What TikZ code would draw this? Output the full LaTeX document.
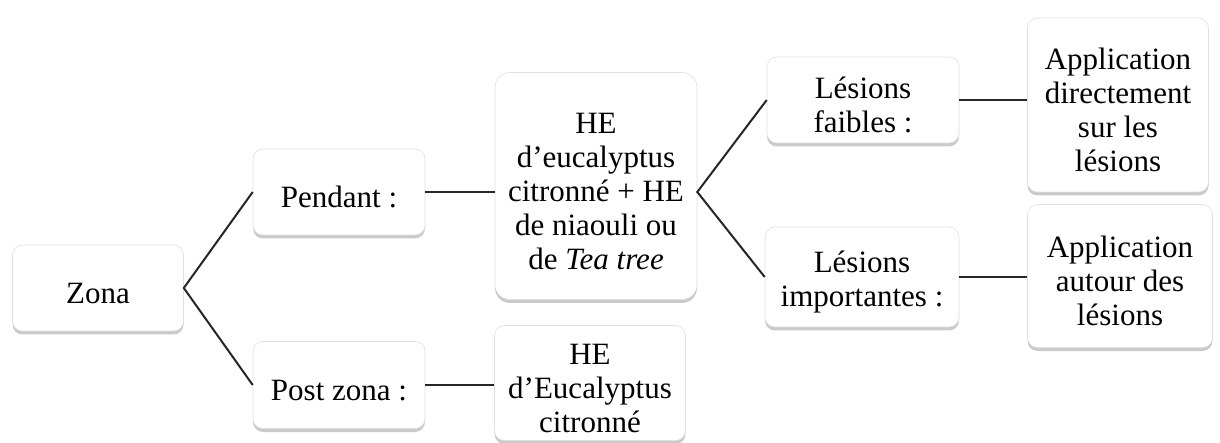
\documentclass[tikz,border=0pt]{standalone}
\usepackage{fontspec}
\setmainfont{Liberation Serif}
\usetikzlibrary{shadows}
\newcommand{\topstrut}{\rule{0pt}{31pt}}
\begin{document}
\begin{tikzpicture}[x=1pt,y=-1pt,
  box/.style={draw=black!12, line width=0.6pt, fill=white, rounded corners=10pt,
    align=center, inner sep=0pt, font=\fontsize{31}{34}\selectfont,
    drop shadow={shadow xshift=0pt, shadow yshift=-3.5pt, opacity=0.35, fill=black!60}},
  link/.style={draw=black!85, line width=2pt}]
\useasboundingbox (0,0) rectangle (1220,443);
\node[box, minimum width=171pt, minimum height=86pt] (zona) at (98,288) {\topstrut Zona};
\node[box, minimum width=172pt, minimum height=86pt] (pendant) at (339,192) {\topstrut Pendant :};
\node[box, minimum width=172pt, minimum height=87pt] (post) at (339,385) {\topstrut Post zona :};
\node[box, minimum width=202pt, minimum height=227pt, rounded corners=15pt] (he1) at (596,186) {\topstrut HE\\d’eucalyptus\\citronné + HE\\de niaouli ou\\de \textit{Tea tree}};
\node[box, minimum width=191pt, minimum height=115pt] (he2) at (590,383) {\topstrut HE\\d’Eucalyptus\\citronné};
\node[box, minimum width=192pt, minimum height=86pt] (lf) at (863,100) {\topstrut Lésions\\faibles :};
\node[box, minimum width=194pt, minimum height=100pt] (li) at (862,277) {\topstrut Lésions\\importantes :};
\node[box, minimum width=181pt, minimum height=174pt] (app1) at (1118,105) {\topstrut Application\\directement\\sur les\\lésions};
\node[box, minimum width=185pt, minimum height=143pt] (app2) at (1120,276) {\topstrut Application\\autour des\\lésions};
\draw[link] (pendant.west) -- (zona.east) -- (post.west);
\draw[link] (pendant.east) -- (he1.west |- pendant.east);
\draw[link] (post.east) -- (he2.west |- post.east);
\draw[link] (lf.west) -- (he1.east |- pendant.east) -- (li.west);
\draw[link] (lf.east) -- (app1.west |- lf.east);
\draw[link] (li.east) -- (app2.west |- li.east);
\end{tikzpicture}
\end{document}
